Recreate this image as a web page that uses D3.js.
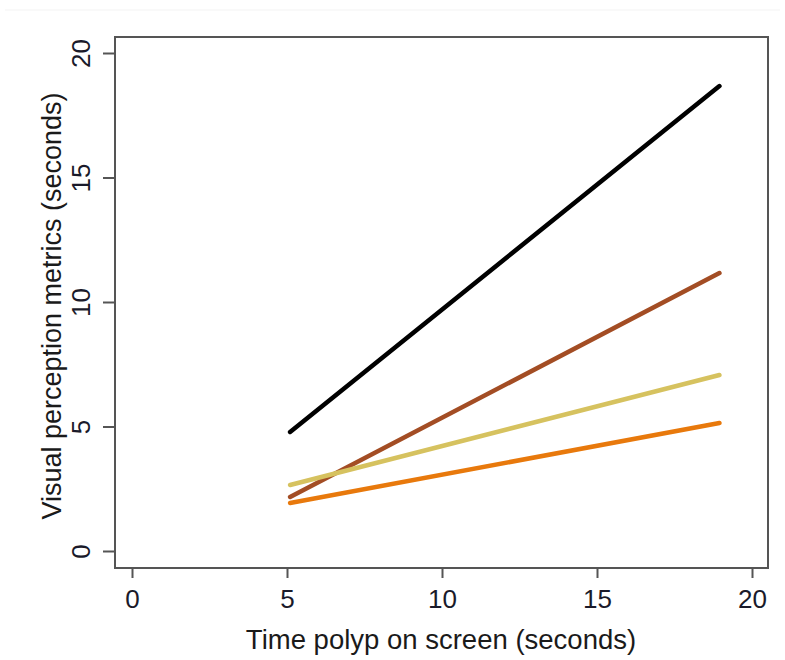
<!DOCTYPE html>
<html><head><meta charset="utf-8">
<script src="https://cdn.jsdelivr.net/npm/d3@7"></script>
<style>body{margin:0;background:#fff}svg{display:block}</style>
</head><body>
<svg id="c" width="785" height="660"></svg>
<script>
const xTicks = [0, 5, 10, 15, 20];
const yTicks = [0, 5, 10, 15, 20];
const seriesNames = ["black", "brown", "yellow", "orange"];
const seriesColors = ["#000000", "#a34d24", "#d6c25f", "#e8790c"];
const xStart = [5.1, 5.1, 5.1, 5.1];
const xEnd = [18.95, 18.95, 18.95, 18.95];
const yStart = [4.78, 2.17, 2.65, 1.93];
const yEnd = [18.67, 11.16, 7.07, 5.14];

const svg = d3.select("#c");
const x = d3.scaleLinear().domain([0, 20]).range([132, 752]);
const y = d3.scaleLinear().domain([0, 20]).range([551, 53]);
const box = {l:115, t:37, r:768, b:568};

svg.append("line").attr("x1",5).attr("x2",780).attr("y1",10).attr("y2",10).attr("stroke","#f3f3f3").attr("stroke-width",1);

svg.append("rect").attr("x",box.l).attr("y",box.t).attr("width",box.r-box.l).attr("height",box.b-box.t)
  .attr("fill","none").attr("stroke","#555").attr("stroke-width",2);

const font = "Liberation Sans, Arial, sans-serif";
const xa = svg.append("g").attr("transform",`translate(0,${box.b})`)
  .call(d3.axisBottom(x).tickValues(xTicks).tickSize(10).tickPadding(12).tickFormat(d3.format("d")));
xa.select(".domain").remove();
xa.selectAll("line").attr("stroke","#555").attr("stroke-width",2);
xa.selectAll("text").attr("font-family",font).attr("font-size",26).attr("fill","#1a1a2a");

const ya = svg.append("g").attr("transform",`translate(${box.l},0)`)
  .call(d3.axisLeft(y).tickValues(yTicks).tickSize(12).tickFormat(d3.format("d")));
ya.select(".domain").remove();
ya.selectAll("line").attr("stroke","#555").attr("stroke-width",2);
ya.selectAll("text").attr("font-family",font).attr("font-size",26).attr("fill","#1a1a2a")
  .attr("x",0).attr("dy",0).attr("y",0).attr("text-anchor","middle")
  .attr("transform","translate(-25,0) rotate(-90)");

svg.append("text").attr("x",441).attr("y",649).attr("text-anchor","middle")
  .attr("font-family",font).attr("font-size",27.5).attr("fill","#1a1a1a").text("Time polyp on screen (seconds)");
svg.append("text").attr("transform",`translate(61,306) rotate(-90)`).attr("text-anchor","middle")
  .attr("font-family",font).attr("font-size",27).attr("fill","#1a1a1a").text("Visual perception metrics (seconds)");

const line = d3.line().x(d=>x(d[0])).y(d=>y(d[1]));
seriesNames.forEach((n,i)=>{
  svg.append("path").attr("d",line([[xStart[i],yStart[i]],[xEnd[i],yEnd[i]]]))
    .attr("stroke",seriesColors[i]).attr("stroke-width",4.5).attr("fill","none").attr("stroke-linecap","round");
});
</script>
</body></html>
